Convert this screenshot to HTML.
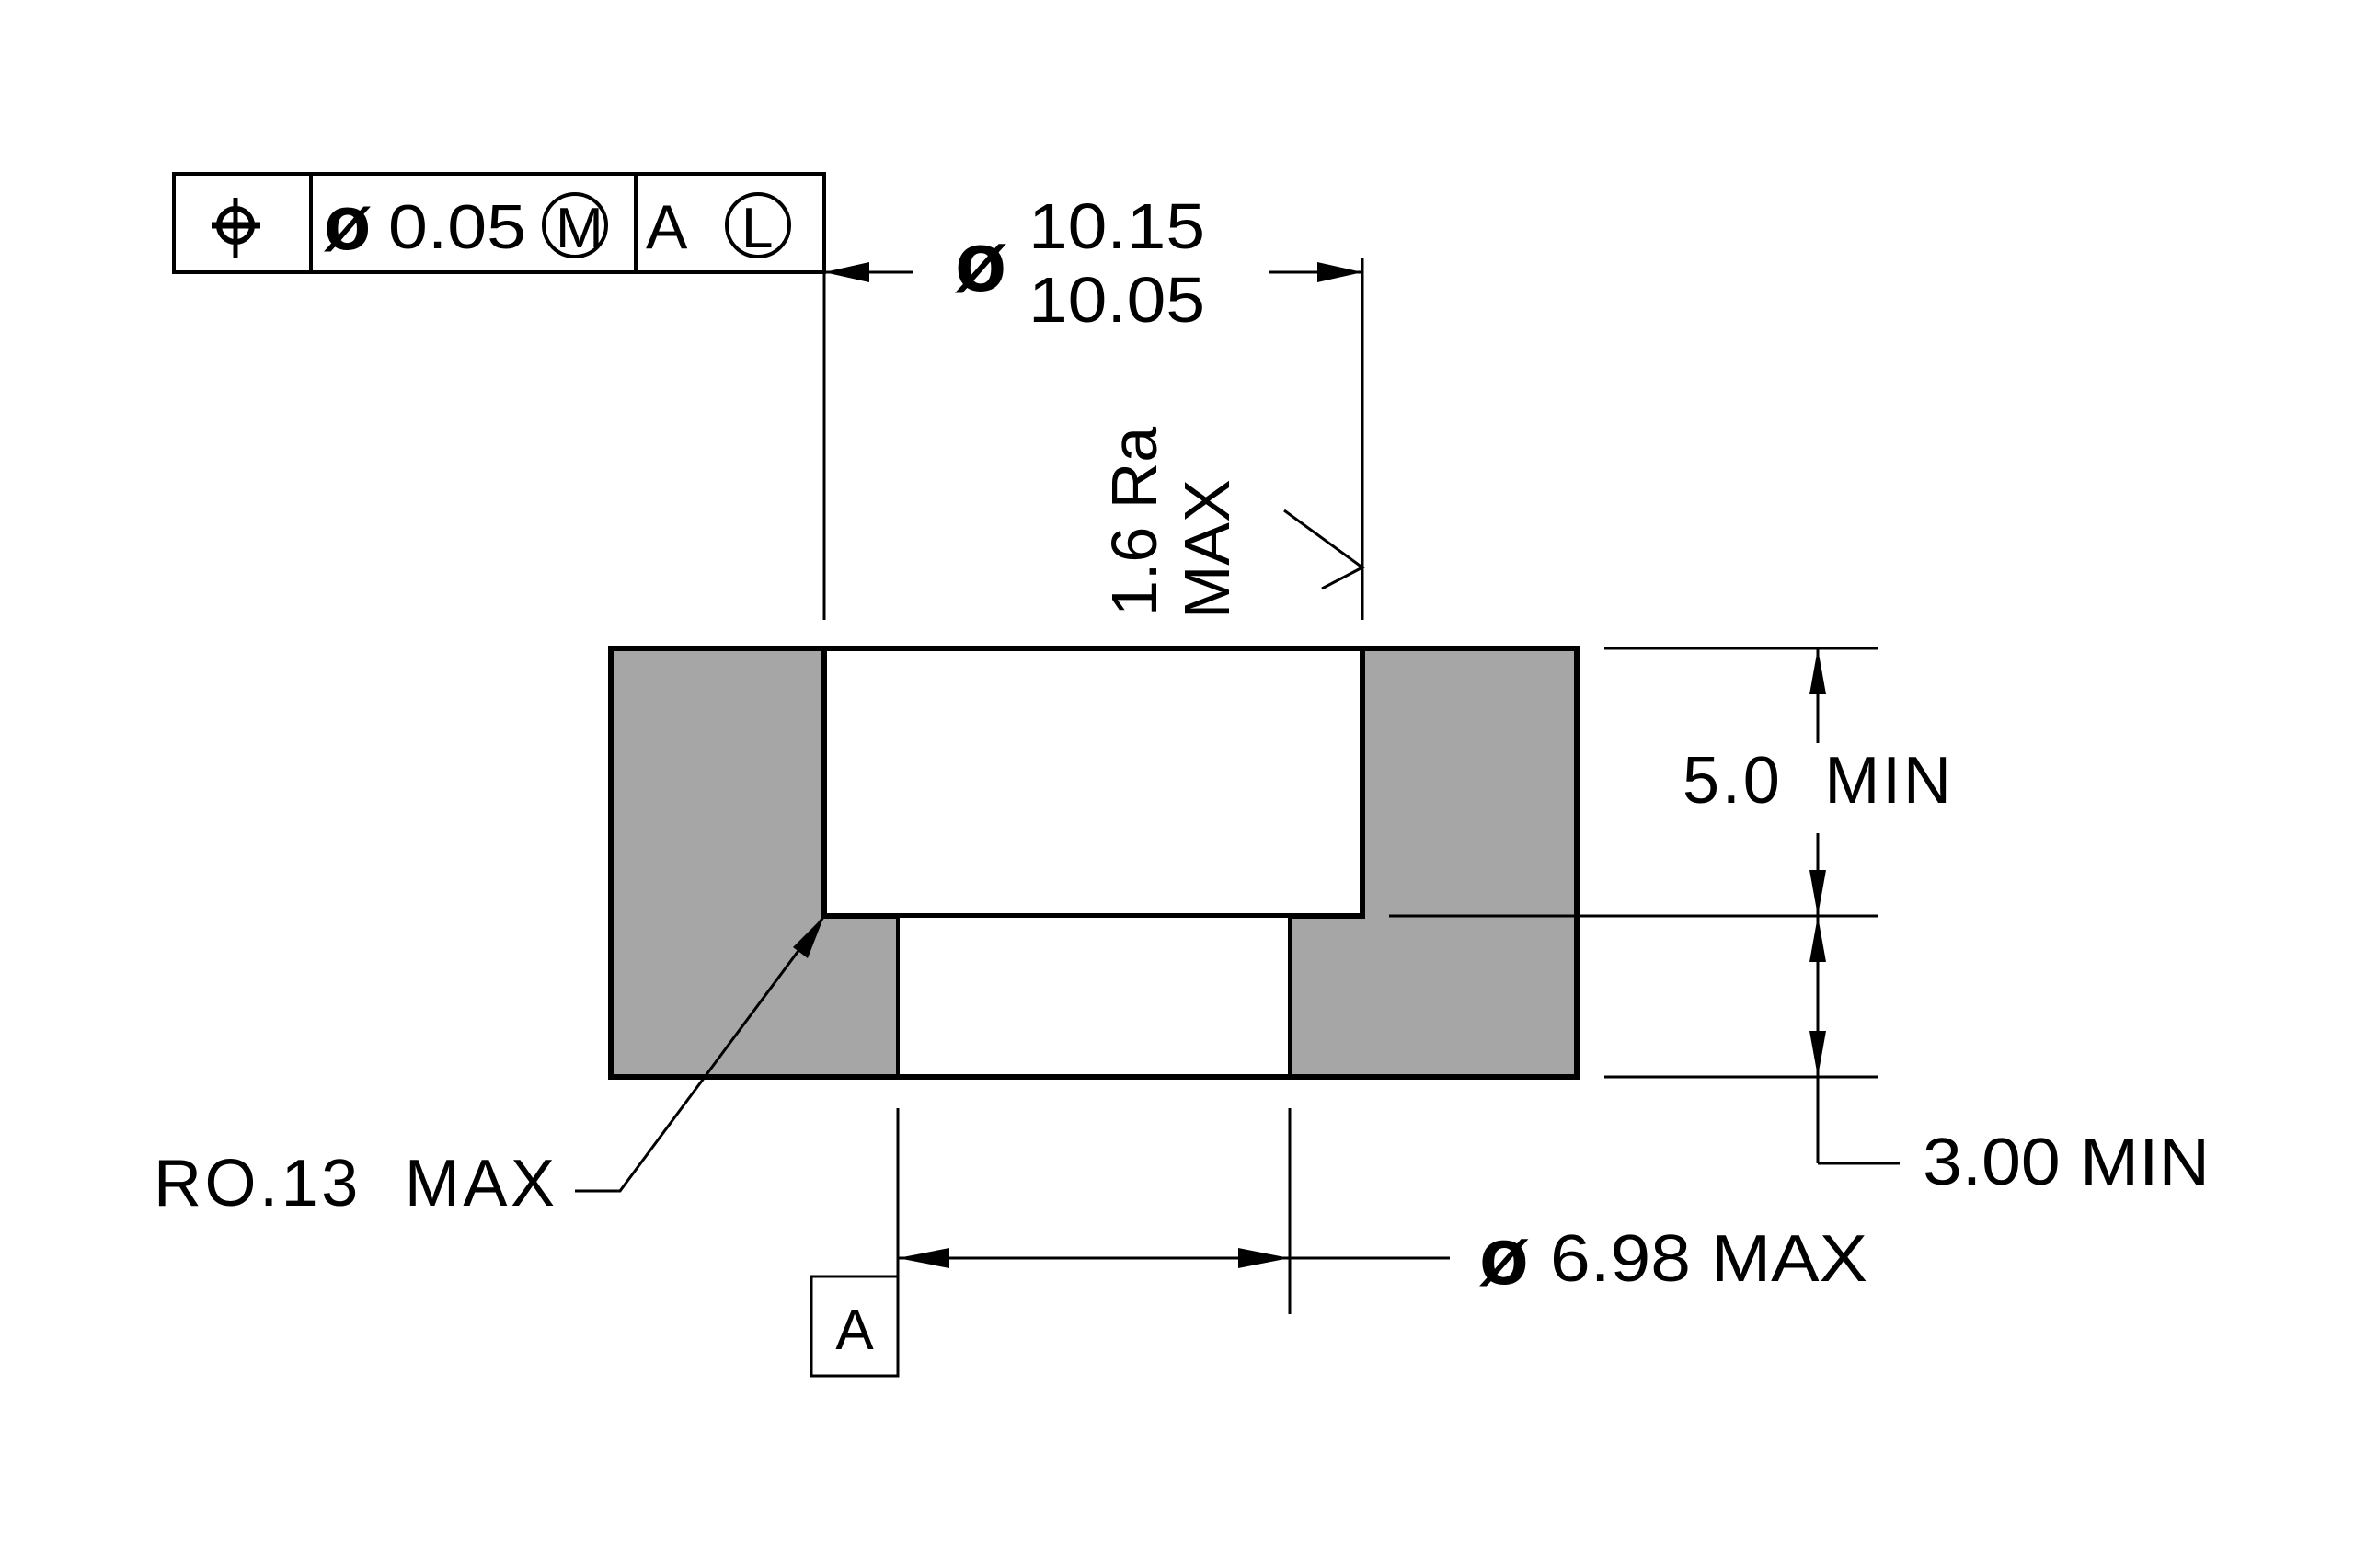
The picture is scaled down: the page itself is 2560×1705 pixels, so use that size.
<!DOCTYPE html>
<html><head><style>html,body{margin:0;padding:0;background:#fff}svg{display:block}text{white-space:pre}</style></head>
<body>
<svg width="2560" height="1705" viewBox="0 0 2560 1705" xmlns="http://www.w3.org/2000/svg" font-family="Liberation Sans, sans-serif" xml:space="preserve">
<!-- body -->
<rect x="664" y="705" width="1050" height="466" fill="#a6a6a6" stroke="#000" stroke-width="6"/>
<path d="M896 705 V996 H1481 V705 Z" fill="#fff" stroke="#000" stroke-width="6"/>
<rect x="976" y="996" width="426" height="175" fill="#fff" stroke="#000" stroke-width="4"/>
<rect x="664" y="705" width="1050" height="466" fill="none" stroke="#000" stroke-width="6"/>
<!-- FCF -->
<g stroke="#000" stroke-width="4" fill="none">
<rect x="189" y="189" width="707" height="107"/>
<line x1="338" y1="189" x2="338" y2="296"/>
<line x1="691" y1="189" x2="691" y2="296"/>
<circle cx="625" cy="245" r="34"/>
<circle cx="824" cy="245" r="34"/>
<circle cx="256" cy="245" r="18" stroke-width="6"/>
<line x1="256" y1="215" x2="256" y2="280" stroke-width="5"/>
<line x1="230" y1="245" x2="283" y2="245" stroke-width="7"/>
</g>
<g fill="#000">
<text x="352" y="271" font-size="84" font-weight="bold">ø</text>
<text x="422" y="270" font-size="68" textLength="150" lengthAdjust="spacingAndGlyphs">0.05</text>
<text x="604" y="269" font-size="62">M</text>
<text x="702" y="270" font-size="68">A</text>
<text x="806" y="269" font-size="62">L</text>
</g>
<!-- top dimension -->
<g stroke="#000" stroke-width="3" fill="none">
<line x1="896" y1="296" x2="896" y2="674"/>
<line x1="1481" y1="281" x2="1481" y2="674"/>
<line x1="896" y1="296" x2="993" y2="296"/>
<line x1="1380" y1="296" x2="1481" y2="296"/>
<polyline points="1396,555 1481,617 1437,640"/>
</g>
<polygon points="896,296 945,285 945,307" fill="#000"/>
<polygon points="1481,296 1432,285 1432,307" fill="#000"/>
<g fill="#000">
<text x="1038" y="316" font-size="92" font-weight="bold">ø</text>
<text x="1118" y="270" font-size="70" textLength="192" lengthAdjust="spacingAndGlyphs">10.15</text>
<text x="1118" y="350" font-size="70" textLength="192" lengthAdjust="spacingAndGlyphs">10.05</text>
<text transform="translate(1257,670) rotate(-90)" font-size="70">1.6 Ra</text>
<text transform="translate(1336,673) rotate(-90)" font-size="70">MAX</text>
</g>
<!-- right dims -->
<g stroke="#000" stroke-width="3" fill="none">
<line x1="1744" y1="705" x2="2041" y2="705"/>
<line x1="1510" y1="996" x2="2041" y2="996"/>
<line x1="1744" y1="1171" x2="2041" y2="1171"/>
<line x1="1976" y1="705" x2="1976" y2="808"/>
<line x1="1976" y1="906" x2="1976" y2="1265"/>
<line x1="1976" y1="1265" x2="2065" y2="1265"/>
</g>
<g fill="#000">
<polygon points="1976,705 1967,755 1985,755"/>
<polygon points="1976,996 1967,946 1985,946"/>
<polygon points="1976,996 1967,1046 1985,1046"/>
<polygon points="1976,1171 1967,1121 1985,1121"/>
</g>
<g font-size="72" fill="#000">
<text x="1829" y="873" textLength="292" lengthAdjust="spacing">5.0  MIN</text>
<text x="2090" y="1288" textLength="312" lengthAdjust="spacingAndGlyphs">3.00 MIN</text>
<text x="167" y="1311" textLength="436" lengthAdjust="spacing">RO.13  MAX</text>
<text x="1608" y="1396" font-size="88" font-weight="bold">ø</text>
<text x="1685" y="1393" textLength="345" lengthAdjust="spacingAndGlyphs">6.98 MAX</text>
</g>
<!-- bottom dim -->
<g stroke="#000" stroke-width="3" fill="none">
<line x1="976" y1="1205" x2="976" y2="1496"/>
<line x1="1402" y1="1205" x2="1402" y2="1429"/>
<line x1="976" y1="1368" x2="1576" y2="1368"/>
<rect x="882" y="1388" width="94" height="108"/>
<polyline points="896,996 674,1295 625,1295"/>
</g>
<polygon points="976,1368 1032,1357 1032,1379" fill="#000"/>
<polygon points="1402,1368 1346,1357 1346,1379" fill="#000"/>
<polygon points="896,996 878,1042 862,1030" fill="#000"/>
<text x="929" y="1467" font-size="62" text-anchor="middle">A</text>
</svg>
</body></html>
